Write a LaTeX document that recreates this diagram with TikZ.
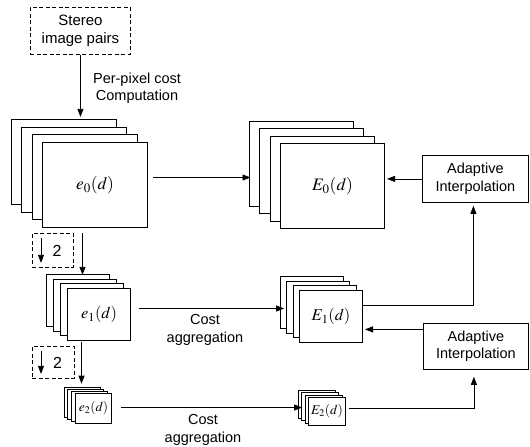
\documentclass[tikz,border=0pt]{standalone}
\usepackage{mathptmx}
\usepackage[no-math]{fontspec}
\setmainfont{Liberation Sans}
\usetikzlibrary{arrows.meta}
\tikzset{
  layer/.style={draw, fill=white, line width=0.6pt, inner sep=0pt, anchor=north west},
  frontlayer/.style={layer, line width=1pt},
  arr/.style={-{Triangle[length=8pt,width=6pt]}, line width=0.8pt},
  conn/.style={line width=0.8pt},
  lbl/.style={font=\fontsize{14.5}{17.5}\selectfont, align=center, inner sep=0pt},
  procbox/.style={draw, line width=0.8pt, inner sep=0pt, anchor=north west,
     font=\fontsize{14.5}{17.5}\selectfont, align=center},
  dbox/.style={draw, dash pattern=on 4pt off 2.5pt, line width=0.9pt, inner sep=0pt,
     anchor=north west, align=center},
}
% #1 name, #2 x, #3 y (front top-left), #4 w, #5 h, #6 dx, #7 dy, #8 label
\newcommand\mystack[8]{%
  \foreach \i in {3,2,1}{%
    \node[layer, minimum width=#4pt, minimum height=#5pt] (#1-\i) at ({#2-\i*#6},{#3-\i*#7}) {};
  }
  \node[frontlayer, minimum width=#4pt, minimum height=#5pt] (#1) at (#2,#3) {#8};
}
\begin{document}
\begin{tikzpicture}[x=1pt,y=-1pt]
\useasboundingbox (0,0) rectangle (530,447);

% input
\node[dbox, minimum width=100pt, minimum height=47pt, font=\fontsize{15}{18}\selectfont] (stereo) at (30,7) {Stereo\\image pairs};
\node[lbl] (pplbl) at (137,88) {Per-pixel cost\\Computation};

% stacks
\mystack{e0}{42}{142}{105}{85}{10.3}{7.7}{\fontsize{17.5}{20}\selectfont$e_0(d)$}
\mystack{E0}{280}{143}{104}{85}{10.5}{7.4}{\fontsize{17.5}{20}\selectfont$E_0(d)$}
\mystack{e1}{67}{288}{63}{52}{7}{4.7}{\fontsize{16.5}{19}\selectfont$e_1(d)$}
\mystack{E1}{299}{290}{63}{52}{6.3}{4.7}{\fontsize{16.5}{19}\selectfont$E_1(d)$}
\mystack{e2}{75}{393}{36}{30}{3.8}{2.1}{\fontsize{13.5}{16}\selectfont$e_2(d)$}
\mystack{E2}{308}{397}{37}{28}{3.3}{2.3}{\fontsize{13.5}{16}\selectfont$E_2(d)$}

% interpolation boxes
\node[procbox, minimum width=106pt, minimum height=47pt] (A1) at (422,155) {Adaptive\\Interpolation};
\node[procbox, minimum width=105pt, minimum height=46pt] (A2) at (423,323) {Adaptive\\Interpolation};

% downsampling boxes
\node[dbox, minimum width=41pt, minimum height=34pt, font=\fontsize{16}{18}\selectfont] (d1) at (32,233) {\hspace*{8pt}2};
\node[dbox, minimum width=42pt, minimum height=32pt, font=\fontsize{16}{18}\selectfont] (d2) at (32,346) {\hspace*{8pt}2};
\draw[arr] ([shift={(9,5)}]d1.north west) -- ([shift={(9,-5)}]d1.south west);
\draw[arr] ([shift={(9,5)}]d2.north west) -- ([shift={(9,-5)}]d2.south west);

% labels
\node[lbl] (ca1) at (205,330) {Cost\\aggregation};
\node[lbl] (ca2) at (203,430) {Cost\\aggregation};

% connectors
\draw[arr, shorten >=2pt] (stereo.south) -- (stereo.south |- e0-3.north);
\draw[arr, line width=0.6pt, shorten >=3pt] ([shift={(5,-7.5)}]e0.east) -- ([shift={(5,-7.5)}]e0.east -| E0-3.west);
\draw[arr, shorten >=2pt] (A1.west) -- (A1.west -| E0.east);
\draw[arr, shorten >=4pt] ([shift={(-12.5,5)}]e0.south) -- ([shift={(-12.5,5)}]e0.south |- e1-3.north);
\draw[arr, shorten >=4pt] ([shift={(8,-6)}]e1.east) -- ([shift={(8,-6)}]e1.east -| E1-3.west);
\draw[arr, shorten >=3pt] ([shift={(0,-11)}]E1.east) -| ([shift={(-2,0)}]A1.south);
\draw[arr, shorten >=2pt] ([shift={(0,-17)}]A2.west) -- ([shift={(0,-17)}]A2.west -| E1.east);
\draw[arr, shorten >=4pt] ([shift={(-17.5,1)}]e1.south) -- ([shift={(-17.5,1)}]e1.south |- e2-3.north);
\draw[arr, shorten >=5pt] ([shift={(9,-1)}]e2.east) -- ([shift={(9,-1)}]e2.east -| E2-3.west);
\draw[arr, shorten >=7pt] ([shift={(3,-3)}]E2.east) -| ([shift={(-2,0)}]A2.south);
\end{tikzpicture}
\end{document}
